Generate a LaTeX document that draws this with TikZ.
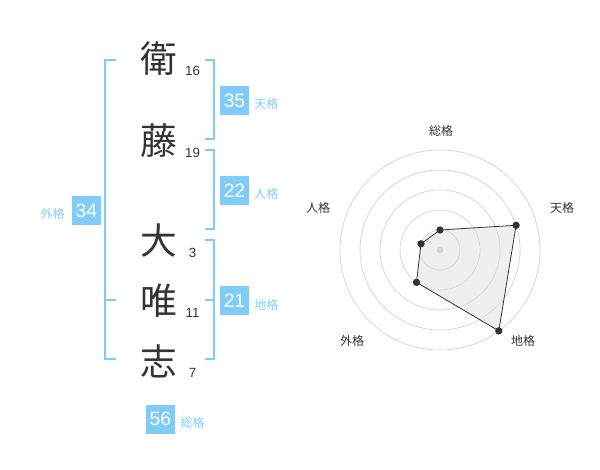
\documentclass[tikz,border=0pt]{standalone}
\usepackage{fontspec}
\setmainfont{Liberation Sans}
\newfontfamily\jpfont{Noto Sans CJK JP}

\definecolor{kakusky}{RGB}{128,204,248}
\definecolor{inkgray}{RGB}{51,51,51}
\definecolor{ringgray}{RGB}{208,208,208}

\tikzset{
  kanji/.style={font=\jpfont\fontsize{27.5}{27.5}\selectfont, text=inkgray, inner sep=0pt},
  strokes/.style={font=\fontsize{10}{10}\selectfont, text=inkgray, inner sep=0pt},
  kakubox/.style={fill=kakusky, text=white, minimum size=21.75pt, inner sep=0pt, font=\fontsize{14.5}{14.5}\selectfont},
  kakulabel/.style={text=kakusky, font=\jpfont\fontsize{9}{9}\selectfont, inner sep=0pt},
  bracket/.style={draw=kakusky, line width=1.5pt},
  ring/.style={draw=ringgray, line width=0.5pt},
  axislabel/.style={text=inkgray, font=\jpfont\fontsize{9}{9}\selectfont, inner sep=0pt},
  dot/.style={circle, fill=inkgray, inner sep=0pt, minimum size=5.5pt}
}

\begin{document}
\begin{tikzpicture}[x=0.75pt,y=-0.75pt]
\useasboundingbox (0,0) rectangle (600,470);

    \foreach \k/\n/\y [count=\i] in {衛/16/59, 藤/19/140.5, 大/3/241, 唯/11/301, 志/7/361} {
        \node[kanji] (k\i) at (159,\y) {\k};
        \node[strokes] (n\i) at (192.5,\y+12) {\n};
    }

    \draw[bracket] (116,60) -- (104.5,60) -- (104.5,359) -- (116,359);
    \draw[bracket] (104.5,300) -- (116,300);
    \draw[bracket] (205,60) -- (214,60) -- (214,139) -- (205,139);
    \draw[bracket] (205,150) -- (214,150) -- (214,229) -- (205,229);
    \draw[bracket] (205,240) -- (214,240) -- (214,359) -- (205,359);
    \draw[bracket] (205,300) -- (214,300);

    \node[kakubox] (ten) at (234.5,100.5) {35};
    \node[kakulabel, anchor=west] (tenl) at (254,104) {天格};
    \node[kakubox] (jin) at (234.5,190.5) {22};
    \node[kakulabel, anchor=west] (jinl) at (254,194) {人格};
    \node[kakubox] (chi) at (234.5,300.5) {21};
    \node[kakulabel, anchor=west] (chil) at (254,305) {地格};
    \node[kakubox] (gai) at (86.5,210.5) {34};
    \node[kakulabel, anchor=east] (gail) at (65,214) {外格};
    \node[kakubox] (sou) at (160.5,419) {56};
    \node[kakulabel, anchor=west] (soul) at (180,423) {総格};

%   radar
    \begin{scope}[shift={(440,250)}]
        \foreach \r in {20,40,...,100}
            \draw[ring] (0,0) circle [radius=\r*0.75pt];
        \fill[ringgray] (0,0) circle [radius=2.6pt];
        \coordinate (p1) at (-90:20);
        \coordinate (p2) at (-18:80);
        \coordinate (p3) at (54:100);
        \coordinate (p4) at (126:40);
        \coordinate (p5) at (-162:20);
        \draw[fill=black!12, fill opacity=0.5, draw=inkgray, line width=0.6pt] (p1) -- (p2) -- (p3) -- (p4) -- (p5) -- cycle;
        \foreach \i in {1,...,5}
            \node[dot] (d\i) at (p\i) {};
    \end{scope}

    \node[axislabel] (lsou) at (441,130.5) {総格};
    \node[axislabel] (lten) at (562,208) {天格};
    \node[axislabel] (lchi) at (523,341) {地格};
    \node[axislabel] (lgai) at (352,341) {外格};
    \node[axislabel] (ljin) at (318,208) {人格};

\end{tikzpicture}
\end{document}
